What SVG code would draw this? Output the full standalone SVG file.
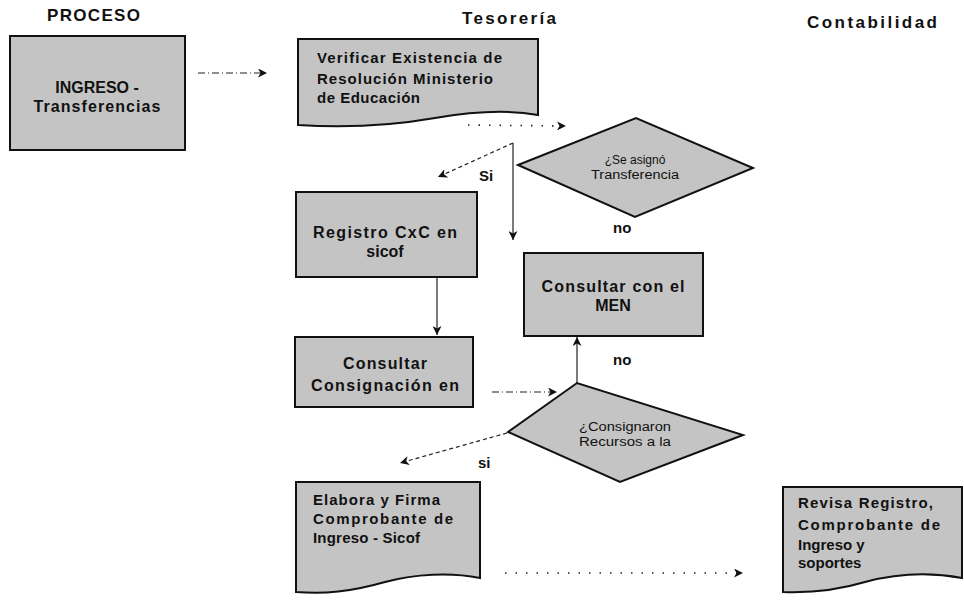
<svg xmlns="http://www.w3.org/2000/svg" width="964" height="602" viewBox="0 0 964 602">
  <style>
    .node { fill: #c4c4c4; stroke: #111; stroke-width: 2; }
    .t { font-family: "Liberation Sans", Arial, sans-serif; font-weight: bold; fill: #111; }
    .hdr { font-size: 17px; }
    .big { font-size: 16px; }
    .mid { font-size: 15px; }
    .sm { font-family: "Liberation Sans", Arial, sans-serif; font-size: 12px; fill: #111; }
    .lbl { font-size: 15px; }
    .c { fill: none; stroke: #222; stroke-width: 1.2; }
    .dash { stroke-dasharray: 4 3; }
    .dashdot { stroke-dasharray: 7 3 1 3; }
    .dot { stroke-dasharray: 1.5 9; stroke-width: 1.6; }
  </style>
  <defs>
    <marker id="arr" markerUnits="userSpaceOnUse" markerWidth="10" markerHeight="9" refX="9" refY="4.5" orient="auto">
      <path d="M0,0 L9,4.5 L0,9 L2.5,4.5 Z" fill="#111"/>
    </marker>
  </defs>
  <rect x="0" y="0" width="964" height="602" fill="#ffffff"/>

  <g id="headers">
    <text class="t hdr" x="47" y="21" textLength="93" lengthAdjust="spacing">PROCESO</text>
    <text class="t hdr" x="462" y="24" textLength="94" lengthAdjust="spacing">Tesorería</text>
    <text class="t hdr" x="807" y="28" textLength="130" lengthAdjust="spacing">Contabilidad</text>
  </g>

  <g id="connectors">
    <line class="c dashdot" x1="198" y1="73" x2="267" y2="73" marker-end="url(#arr)"/>
    <line class="c dot" x1="468" y1="125" x2="566" y2="126" marker-end="url(#arr)"/>
    <line class="c" x1="513" y1="143" x2="513" y2="240" marker-end="url(#arr)"/>
    <line class="c dash" x1="513" y1="143" x2="438" y2="177" marker-end="url(#arr)"/>
    <line class="c" x1="437" y1="277" x2="437" y2="335" marker-end="url(#arr)"/>
    <line class="c dashdot" x1="492" y1="392" x2="557" y2="392" marker-end="url(#arr)"/>
    <line class="c" x1="577" y1="384" x2="577" y2="337" marker-end="url(#arr)"/>
    <line class="c dash" x1="507" y1="433" x2="400" y2="463" marker-end="url(#arr)"/>
    <line class="c dot" x1="505" y1="573" x2="743" y2="573" marker-end="url(#arr)"/>
    <text class="t lbl" x="479" y="181">Si</text>
    <text class="t lbl" x="613" y="233">no</text>
    <text class="t lbl" x="613" y="365">no</text>
    <text class="t lbl" x="478" y="468">si</text>
  </g>

  <g id="ingreso">
    <rect class="node" x="10" y="36" width="175" height="114"/>
    <text class="t" font-size="16" x="97" y="93" text-anchor="middle">INGRESO -</text>
    <text class="t" font-size="16" x="97" y="112" text-anchor="middle" textLength="127" lengthAdjust="spacing">Transferencias</text>
  </g>

  <g id="verificar">
    <path class="node" d="M298,39 H538 V115 C505,109 470,112 435,118 C395,125 345,128 298,125 Z"/>
    <text class="t mid" x="317" y="63" textLength="185" lengthAdjust="spacing">Verificar Existencia de</text>
    <text class="t mid" x="317" y="84" textLength="176" lengthAdjust="spacing">Resolución Ministerio</text>
    <text class="t mid" x="317" y="103" textLength="103" lengthAdjust="spacing">de Educación</text>
  </g>

  <g id="decision-transferencia">
    <polygon class="node" points="518,165 636,118 753,168 635,217"/>
    <text class="sm" x="635" y="164" text-anchor="middle">¿Se asignó</text>
    <text class="sm" x="635" y="179" text-anchor="middle" textLength="88" lengthAdjust="spacingAndGlyphs">Transferencia</text>
  </g>

  <g id="registro">
    <rect class="node" x="296" y="192" width="181" height="85"/>
    <text class="t big" x="385" y="238" text-anchor="middle" textLength="144" lengthAdjust="spacing">Registro CxC en</text>
    <text class="t big" x="385" y="257" text-anchor="middle">sicof</text>
  </g>

  <g id="consultar-men">
    <rect class="node" x="524" y="253" width="179" height="83"/>
    <text class="t big" x="613" y="292" text-anchor="middle" textLength="143" lengthAdjust="spacing">Consultar con el</text>
    <text class="t big" x="613" y="311" text-anchor="middle">MEN</text>
  </g>

  <g id="consultar-consignacion">
    <rect class="node" x="295" y="337" width="178" height="70"/>
    <text class="t big" x="385" y="369" text-anchor="middle" textLength="84" lengthAdjust="spacing">Consultar</text>
    <text class="t big" x="385" y="391" text-anchor="middle" textLength="148" lengthAdjust="spacing">Consignación en</text>
  </g>

  <g id="decision-consignaron">
    <polygon class="node" points="508,432 577,383 743,435 620,482"/>
    <text class="sm" x="625" y="431" text-anchor="middle" textLength="92" lengthAdjust="spacingAndGlyphs">¿Consignaron</text>
    <text class="sm" x="625" y="446" text-anchor="middle" textLength="92" lengthAdjust="spacingAndGlyphs">Recursos a la</text>
  </g>

  <g id="elabora">
    <path class="node" d="M296,482 H480 V578 C450,572 415,574 385,582 C350,592 325,594 296,592 Z"/>
    <text class="t mid" x="313" y="505" textLength="127" lengthAdjust="spacing">Elabora y Firma</text>
    <text class="t mid" x="313" y="524" textLength="140" lengthAdjust="spacing">Comprobante de</text>
    <text class="t mid" x="313" y="543" textLength="107" lengthAdjust="spacing">Ingreso - Sicof</text>
  </g>

  <g id="revisa">
    <path class="node" d="M783,487 H962 V578 C930,572 895,574 865,582 C835,591 810,593 783,592 Z"/>
    <text class="t mid" x="798" y="508" textLength="135" lengthAdjust="spacing">Revisa Registro,</text>
    <text class="t mid" x="798" y="530" textLength="142" lengthAdjust="spacing">Comprobante de</text>
    <text class="t mid" x="798" y="550">Ingreso y</text>
    <text class="t mid" x="798" y="568">soportes</text>
  </g>
</svg>
